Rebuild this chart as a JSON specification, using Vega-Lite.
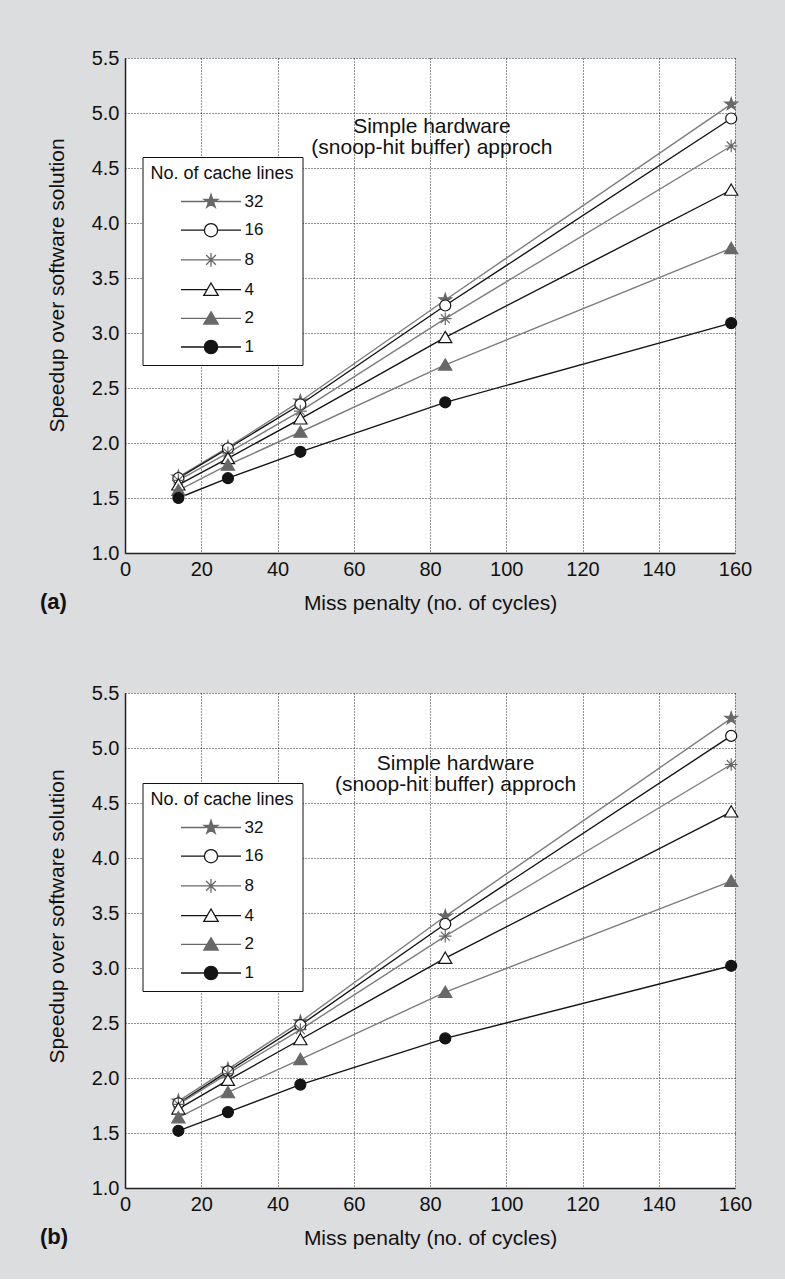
{
  "$schema": "https://vega.github.io/schema/vega-lite/v6.json",
  "background": "#dcdddf",
  "padding": {"left": 40, "top": 48, "right": 34, "bottom": 31},
  "spacing": 70,
  "datasets": {
    "a": [
      {"lines": "32", "penalty": 14, "speedup": 1.69}, {"lines": "32", "penalty": 27, "speedup": 1.96}, {"lines": "32", "penalty": 46, "speedup": 2.38}, {"lines": "32", "penalty": 84, "speedup": 3.30}, {"lines": "32", "penalty": 159, "speedup": 5.08},
      {"lines": "16", "penalty": 14, "speedup": 1.68}, {"lines": "16", "penalty": 27, "speedup": 1.95}, {"lines": "16", "penalty": 46, "speedup": 2.35}, {"lines": "16", "penalty": 84, "speedup": 3.25}, {"lines": "16", "penalty": 159, "speedup": 4.95},
      {"lines": "8", "penalty": 14, "speedup": 1.66}, {"lines": "8", "penalty": 27, "speedup": 1.91}, {"lines": "8", "penalty": 46, "speedup": 2.29}, {"lines": "8", "penalty": 84, "speedup": 3.13}, {"lines": "8", "penalty": 159, "speedup": 4.70},
      {"lines": "4", "penalty": 14, "speedup": 1.62}, {"lines": "4", "penalty": 27, "speedup": 1.86}, {"lines": "4", "penalty": 46, "speedup": 2.22}, {"lines": "4", "penalty": 84, "speedup": 2.96}, {"lines": "4", "penalty": 159, "speedup": 4.30},
      {"lines": "2", "penalty": 14, "speedup": 1.57}, {"lines": "2", "penalty": 27, "speedup": 1.80}, {"lines": "2", "penalty": 46, "speedup": 2.10}, {"lines": "2", "penalty": 84, "speedup": 2.71}, {"lines": "2", "penalty": 159, "speedup": 3.77},
      {"lines": "1", "penalty": 14, "speedup": 1.50}, {"lines": "1", "penalty": 27, "speedup": 1.68}, {"lines": "1", "penalty": 46, "speedup": 1.92}, {"lines": "1", "penalty": 84, "speedup": 2.37}, {"lines": "1", "penalty": 159, "speedup": 3.09}
    ],
    "b": [
      {"lines": "32", "penalty": 14, "speedup": 1.79}, {"lines": "32", "penalty": 27, "speedup": 2.08}, {"lines": "32", "penalty": 46, "speedup": 2.51}, {"lines": "32", "penalty": 84, "speedup": 3.47}, {"lines": "32", "penalty": 159, "speedup": 5.27},
      {"lines": "16", "penalty": 14, "speedup": 1.77}, {"lines": "16", "penalty": 27, "speedup": 2.06}, {"lines": "16", "penalty": 46, "speedup": 2.48}, {"lines": "16", "penalty": 84, "speedup": 3.40}, {"lines": "16", "penalty": 159, "speedup": 5.11},
      {"lines": "8", "penalty": 14, "speedup": 1.76}, {"lines": "8", "penalty": 27, "speedup": 2.04}, {"lines": "8", "penalty": 46, "speedup": 2.44}, {"lines": "8", "penalty": 84, "speedup": 3.29}, {"lines": "8", "penalty": 159, "speedup": 4.85},
      {"lines": "4", "penalty": 14, "speedup": 1.72}, {"lines": "4", "penalty": 27, "speedup": 1.98}, {"lines": "4", "penalty": 46, "speedup": 2.35}, {"lines": "4", "penalty": 84, "speedup": 3.09}, {"lines": "4", "penalty": 159, "speedup": 4.42},
      {"lines": "2", "penalty": 14, "speedup": 1.64}, {"lines": "2", "penalty": 27, "speedup": 1.87}, {"lines": "2", "penalty": 46, "speedup": 2.17}, {"lines": "2", "penalty": 84, "speedup": 2.78}, {"lines": "2", "penalty": 159, "speedup": 3.79},
      {"lines": "1", "penalty": 14, "speedup": 1.52}, {"lines": "1", "penalty": 27, "speedup": 1.69}, {"lines": "1", "penalty": 46, "speedup": 1.94}, {"lines": "1", "penalty": 84, "speedup": 2.36}, {"lines": "1", "penalty": 159, "speedup": 3.02}
    ],
    "notesA": [
      {"penalty": 80.5, "speedup": 4.875, "text": "Simple hardware"},
      {"penalty": 80.5, "speedup": 4.68, "text": "(snoop-hit buffer) approch"}
    ],
    "notesB": [
      {"penalty": 86.7, "speedup": 4.855, "text": "Simple hardware"},
      {"penalty": 86.7, "speedup": 4.66, "text": "(snoop-hit buffer) approch"}
    ],
    "keys": [
      {"lines": "32"}, {"lines": "16"}, {"lines": "8"}, {"lines": "4"}, {"lines": "2"}, {"lines": "1"}
    ]
  },
  "config": {
    "font": "Liberation Sans",
    "view": {"stroke": null, "fill": "white"},
    "axis": {
      "labelFont": "Liberation Sans", "labelFontSize": 20, "labelColor": "#111111",
      "titleFont": "Liberation Sans", "titleFontSize": 21, "titleFontWeight": "normal", "titleColor": "#111111",
      "ticks": false, "tickSize": 0,
      "domainColor": "#222222", "domainWidth": 1.5,
      "grid": true, "gridColor": "#222222", "gridDash": [1, 2], "gridWidth": 1, "gridOpacity": 1,
      "labelFlush": false, "labelOverlap": false
    },
    "axisX": {"labelPadding": 6, "titlePadding": 13},
    "axisY": {"labelPadding": 6, "titlePadding": 24},
    "legend": {
      "strokeColor": "#111111", "fillColor": "white", "padding": 8, "cornerRadius": 0,
      "titleFont": "Liberation Sans", "titleFontSize": 18, "titleFontWeight": "normal", "titleColor": "#111111", "titlePadding": 10, "titleLimit": 400,
      "labelFont": "Liberation Sans", "labelFontSize": 17, "labelColor": "#111111",
      "symbolSize": 144, "symbolStrokeWidth": 1.3, "symbolOffset": 52, "labelOffset": 25, "rowPadding": 10.7, "symbolOpacity": 1
    }
  },
  "vconcat": [
    {
      "width": 610, "height": 495,
      "title": {"text": "(a)", "orient": "bottom", "anchor": "start", "frame": "group", "baseline": "top", "dx": -85, "dy": -21, "offset": 0, "fontSize": 22, "fontWeight": "bold", "color": "#111111", "font": "Liberation Sans"},
      "layer": [
        {
          "data": {"name": "a"},
          "mark": {"type": "line", "strokeWidth": 1.4},
          "encoding": {
            "x": {"field": "penalty", "type": "quantitative", "scale": {"domain": [0, 160], "nice": false}, "axis": {"title": "Miss penalty (no. of cycles)", "values": [0, 20, 40, 60, 80, 100, 120, 140, 160]}},
            "y": {"field": "speedup", "type": "quantitative", "scale": {"domain": [1, 5.5], "nice": false, "zero": false}, "axis": {"title": "Speedup over software solution", "values": [1, 1.5, 2, 2.5, 3, 3.5, 4, 4.5, 5, 5.5], "format": ".1f", "titleY": 227}},
            "stroke": {"field": "lines", "type": "nominal", "scale": {"domain": ["32", "16", "8", "4", "2", "1"], "range": ["#7d7d7d", "#141414", "#7d7d7d", "#141414", "#7d7d7d", "#141414"]}, "legend": null}
          }
        },
        {
          "data": {"name": "a"},
          "mark": {"type": "point", "size": 121, "strokeWidth": 1.2, "opacity": 1},
          "encoding": {
            "x": {"field": "penalty", "type": "quantitative"},
            "y": {"field": "speedup", "type": "quantitative"},
            "shape": {"field": "lines", "type": "nominal", "scale": {"domain": ["32", "16", "8", "4", "2", "1"], "range": ["M0,-1.2L0.2694,-0.3708L1.1412,-0.3708L0.436,0.1416L0.7054,0.9708L0,0.4584L-0.7054,0.9708L-0.436,0.1416L-1.1412,-0.3708L-0.2694,-0.3708Z", "circle", "M-1.15,0L1.15,0M0,-1.15L0,1.15M-0.81,-0.81L0.81,0.81M-0.81,0.81L0.81,-0.81", "M0,-1.1L1.2,0.95L-1.2,0.95Z", "M0,-1.1L1.2,0.95L-1.2,0.95Z", "circle"]}, "legend": null},
            "fill": {"field": "lines", "type": "nominal", "scale": {"domain": ["32", "16", "8", "4", "2", "1"], "range": ["#686868", "#ffffff", "transparent", "#ffffff", "#686868", "#141414"]}, "legend": null},
            "stroke": {"field": "lines", "type": "nominal", "scale": {"domain": ["32", "16", "8", "4", "2", "1"], "range": ["#686868", "#141414", "#686868", "#141414", "#686868", "#141414"]}, "legend": null}
          }
        },
        {
          "data": {"name": "keys"},
          "transform": [{"filter": "isValid(datum.penalty)"}],
          "mark": {"type": "point", "size": 144, "strokeWidth": 1.3, "opacity": 1},
          "encoding": {
            "x": {"field": "penalty", "type": "quantitative"},
            "y": {"field": "speedup", "type": "quantitative"},
            "shape": {"field": "lines", "type": "nominal", "scale": {"domain": ["32", "16", "8", "4", "2", "1"], "range": ["M-5,0L-0.9,0M0.9,0L5,0M0,-1.2L0.2694,-0.3708L1.1412,-0.3708L0.436,0.1416L0.7054,0.9708L0,0.4584L-0.7054,0.9708L-0.436,0.1416L-1.1412,-0.3708L-0.2694,-0.3708Z", "M-5,0L-1.1,0M1.1,0L5,0M1.1,0A1.1,1.1,0,1,1,-1.1,0A1.1,1.1,0,1,1,1.1,0Z", "M-5,0L5,0M0,-1.15L0,1.15M-0.81,-0.81L0.81,0.81M-0.81,0.81L0.81,-0.81", "M-5,0L-0.64,0M0.64,0L5,0M0,-1.1L1.2,0.95L-1.2,0.95Z", "M-5,0L-0.64,0M0.64,0L5,0M0,-1.1L1.2,0.95L-1.2,0.95Z", "M-5,0L-1.1,0M1.1,0L5,0M1.1,0A1.1,1.1,0,1,1,-1.1,0A1.1,1.1,0,1,1,1.1,0Z"]}, "legend": {"title": "No. of cache lines", "orient": "none", "legendX": 17.5, "legendY": 99}},
            "fill": {"field": "lines", "type": "nominal", "scale": {"domain": ["32", "16", "8", "4", "2", "1"], "range": ["#686868", "#ffffff", "transparent", "#ffffff", "#686868", "#141414"]}, "legend": {"title": "No. of cache lines", "orient": "none", "legendX": 17.5, "legendY": 99}},
            "stroke": {"field": "lines", "type": "nominal", "scale": {"domain": ["32", "16", "8", "4", "2", "1"], "range": ["#686868", "#141414", "#686868", "#141414", "#686868", "#141414"]}, "legend": {"title": "No. of cache lines", "orient": "none", "legendX": 17.5, "legendY": 99}}
          }
        },
        {
          "data": {"name": "notesA"},
          "mark": {"type": "text", "fontSize": 21, "font": "Liberation Sans", "color": "#111111", "align": "center", "baseline": "middle"},
          "encoding": {
            "x": {"field": "penalty", "type": "quantitative"},
            "y": {"field": "speedup", "type": "quantitative"},
            "text": {"field": "text", "type": "nominal"}
          }
        }
      ],
      "resolve": {"scale": {"shape": "independent", "fill": "independent", "stroke": "independent"}}
    },
    {
      "width": 610, "height": 495,
      "title": {"text": "(b)", "orient": "bottom", "anchor": "start", "frame": "group", "baseline": "top", "dx": -85, "dy": -21, "offset": 0, "fontSize": 22, "fontWeight": "bold", "color": "#111111", "font": "Liberation Sans"},
      "layer": [
        {
          "data": {"name": "b"},
          "mark": {"type": "line", "strokeWidth": 1.4},
          "encoding": {
            "x": {"field": "penalty", "type": "quantitative", "scale": {"domain": [0, 160], "nice": false}, "axis": {"title": "Miss penalty (no. of cycles)", "values": [0, 20, 40, 60, 80, 100, 120, 140, 160]}},
            "y": {"field": "speedup", "type": "quantitative", "scale": {"domain": [1, 5.5], "nice": false, "zero": false}, "axis": {"title": "Speedup over software solution", "values": [1, 1.5, 2, 2.5, 3, 3.5, 4, 4.5, 5, 5.5], "format": ".1f", "titleY": 223}},
            "stroke": {"field": "lines", "type": "nominal", "scale": {"domain": ["32", "16", "8", "4", "2", "1"], "range": ["#7d7d7d", "#141414", "#7d7d7d", "#141414", "#7d7d7d", "#141414"]}, "legend": null}
          }
        },
        {
          "data": {"name": "b"},
          "mark": {"type": "point", "size": 121, "strokeWidth": 1.2, "opacity": 1},
          "encoding": {
            "x": {"field": "penalty", "type": "quantitative"},
            "y": {"field": "speedup", "type": "quantitative"},
            "shape": {"field": "lines", "type": "nominal", "scale": {"domain": ["32", "16", "8", "4", "2", "1"], "range": ["M0,-1.2L0.2694,-0.3708L1.1412,-0.3708L0.436,0.1416L0.7054,0.9708L0,0.4584L-0.7054,0.9708L-0.436,0.1416L-1.1412,-0.3708L-0.2694,-0.3708Z", "circle", "M-1.15,0L1.15,0M0,-1.15L0,1.15M-0.81,-0.81L0.81,0.81M-0.81,0.81L0.81,-0.81", "M0,-1.1L1.2,0.95L-1.2,0.95Z", "M0,-1.1L1.2,0.95L-1.2,0.95Z", "circle"]}, "legend": null},
            "fill": {"field": "lines", "type": "nominal", "scale": {"domain": ["32", "16", "8", "4", "2", "1"], "range": ["#686868", "#ffffff", "transparent", "#ffffff", "#686868", "#141414"]}, "legend": null},
            "stroke": {"field": "lines", "type": "nominal", "scale": {"domain": ["32", "16", "8", "4", "2", "1"], "range": ["#686868", "#141414", "#686868", "#141414", "#686868", "#141414"]}, "legend": null}
          }
        },
        {
          "data": {"name": "keys"},
          "transform": [{"filter": "isValid(datum.penalty)"}],
          "mark": {"type": "point", "size": 144, "strokeWidth": 1.3, "opacity": 1},
          "encoding": {
            "x": {"field": "penalty", "type": "quantitative"},
            "y": {"field": "speedup", "type": "quantitative"},
            "shape": {"field": "lines", "type": "nominal", "scale": {"domain": ["32", "16", "8", "4", "2", "1"], "range": ["M-5,0L-0.9,0M0.9,0L5,0M0,-1.2L0.2694,-0.3708L1.1412,-0.3708L0.436,0.1416L0.7054,0.9708L0,0.4584L-0.7054,0.9708L-0.436,0.1416L-1.1412,-0.3708L-0.2694,-0.3708Z", "M-5,0L-1.1,0M1.1,0L5,0M1.1,0A1.1,1.1,0,1,1,-1.1,0A1.1,1.1,0,1,1,1.1,0Z", "M-5,0L5,0M0,-1.15L0,1.15M-0.81,-0.81L0.81,0.81M-0.81,0.81L0.81,-0.81", "M-5,0L-0.64,0M0.64,0L5,0M0,-1.1L1.2,0.95L-1.2,0.95Z", "M-5,0L-0.64,0M0.64,0L5,0M0,-1.1L1.2,0.95L-1.2,0.95Z", "M-5,0L-1.1,0M1.1,0L5,0M1.1,0A1.1,1.1,0,1,1,-1.1,0A1.1,1.1,0,1,1,1.1,0Z"]}, "legend": {"title": "No. of cache lines", "orient": "none", "legendX": 17.5, "legendY": 90}},
            "fill": {"field": "lines", "type": "nominal", "scale": {"domain": ["32", "16", "8", "4", "2", "1"], "range": ["#686868", "#ffffff", "transparent", "#ffffff", "#686868", "#141414"]}, "legend": {"title": "No. of cache lines", "orient": "none", "legendX": 17.5, "legendY": 90}},
            "stroke": {"field": "lines", "type": "nominal", "scale": {"domain": ["32", "16", "8", "4", "2", "1"], "range": ["#686868", "#141414", "#686868", "#141414", "#686868", "#141414"]}, "legend": {"title": "No. of cache lines", "orient": "none", "legendX": 17.5, "legendY": 90}}
          }
        },
        {
          "data": {"name": "notesB"},
          "mark": {"type": "text", "fontSize": 21, "font": "Liberation Sans", "color": "#111111", "align": "center", "baseline": "middle"},
          "encoding": {
            "x": {"field": "penalty", "type": "quantitative"},
            "y": {"field": "speedup", "type": "quantitative"},
            "text": {"field": "text", "type": "nominal"}
          }
        }
      ],
      "resolve": {"scale": {"shape": "independent", "fill": "independent", "stroke": "independent"}}
    }
  ]
}
